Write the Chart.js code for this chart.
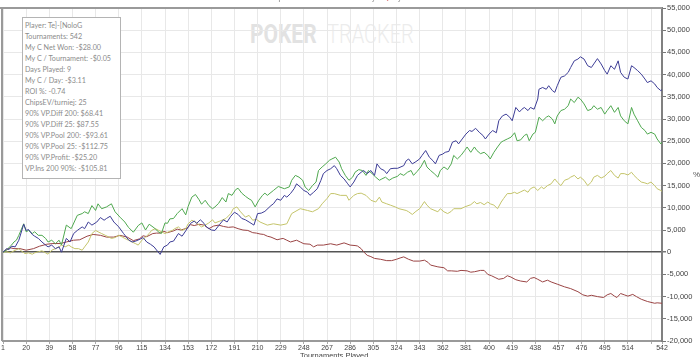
<!DOCTYPE html>
<html><head><meta charset="utf-8">
<script src="https://cdn.jsdelivr.net/npm/chart.js@4/dist/chart.umd.min.js"></script>
<style>
html,body{margin:0;padding:0;background:#fff;width:700px;height:357px;overflow:hidden;}
#wrap{position:relative;width:700px;height:357px;}
.wm{position:absolute;white-space:nowrap;font-family:Roboto,"Liberation Sans",sans-serif;font-size:25px;line-height:25px;transform-origin:0 0;}
#wm1{left:250px;top:22px;font-weight:700;color:#e2e2e2;transform:scaleX(0.84);}
#wm2{left:327px;top:22px;font-weight:300;color:#ececec;transform:scaleX(0.8);}
#c{position:absolute;left:0;top:0;}
#stats{position:absolute;left:22px;top:17px;width:95px;height:158.5px;border:1px solid #b4b4b4;background:#fff;
 font-family:Lato,"Open Sans",sans-serif;font-size:7.2px;line-height:11px;color:#8c8c8c;padding:1.5px 0 0 2px;white-space:nowrap;}
#ttl{position:absolute;left:268px;top:-6px;font-family:"Liberation Sans",sans-serif;font-size:7px;line-height:8px;color:#777;white-space:nowrap;}
#ttl b{color:#d04040;font-weight:normal;}
#xt{position:absolute;left:300px;top:351px;font-family:"Liberation Sans",sans-serif;font-size:7.5px;line-height:9px;color:#444;white-space:nowrap;}
#pct{position:absolute;left:693px;top:170px;font-family:"Liberation Sans",sans-serif;font-size:8px;line-height:9px;color:#555;}
</style></head>
<body><div id="wrap">
<div class="wm" id="wm1">POKER</div><div class="wm" id="wm2">TRACKER</div>
<canvas id="c" width="700" height="357"></canvas>
<div id="ttl">Chips Won over Tournaments Played <b>&#9670;</b> My C Net Won</div>
<div id="stats">Player: Te]-[NoloG<br>Tournaments: 542<br>My C Net Won: -$28.00<br>My C / Tournament: -$0.05<br>Days Played: 9<br>My C / Day: -$3.11<br>ROI %: -0.74<br>ChipsEV/turniej: 25<br>90% VP.Diff 200: $68.41<br>90% VP.Diff 25: $87.55<br>90% VP.Pool 200: -$93.61<br>90% VP.Pool 25: -$112.75<br>90% VP.Profit: -$25.20<br>VP.Ins 200 90%: -$105.81</div>
<div id="xt">Tournaments Played</div>
<div id="pct">%</div>
</div>
<script>
// [tournament, chips]
const blueSeries = [[1,0],[4,800],[6,600],[8,1350],[11,1200],[14,2700],[18,6300],[20,4900],[22,5100],[25,4000],[27,3600],[30,3100],[33,2300],[36,1600],[38,1200],[41,1600],[44,800],[47,1200],[49,0],[53,3100],[56,2300],[59,4200],[62,4900],[66,5700],[68,5300],[71,6800],[74,6100],[78,6800],[81,7800],[84,7200],[86,7600],[89,8100],[92,6800],[96,5700],[100,4200],[104,2800],[107,2300],[110,2500],[114,3000],[116,3300],[119,2300],[122,1800],[125,1200],[127,500],[130,-500],[133,1200],[136,1600],[138,2300],[141,2500],[145,4200],[148,3600],[151,4800],[155,6500],[158,7000],[160,6500],[163,7300],[166,6500],[168,5700],[172,5000],[175,4900],[179,6300],[182,7300],[185,6800],[188,8100],[191,9000],[194,8500],[197,7600],[200,7300],[203,6800],[207,6100],[210,8700],[213,8800],[216,9200],[221,10500],[223,10900],[226,12000],[229,11700],[232,12800],[234,12400],[237,13200],[240,14300],[242,15400],[245,14700],[248,13900],[251,13500],[253,12800],[256,13500],[259,14300],[262,16200],[264,17700],[267,18400],[270,18800],[273,19500],[275,18800],[278,17300],[281,16500],[284,15400],[286,14700],[289,15800],[292,17300],[295,18000],[297,18400],[300,17700],[303,18400],[306,17300],[308,19900],[311,18800],[314,18400],[316,17700],[319,18800],[322,18900],[325,18900],[330,19500],[332,20600],[334,21000],[337,19900],[340,20400],[343,21000],[345,21800],[348,22900],[351,21400],[354,20600],[356,19900],[359,21800],[362,22100],[364,22500],[367,22700],[370,24800],[373,25100],[375,24400],[378,25500],[381,26600],[384,27400],[386,27200],[389,27900],[392,27000],[395,26300],[397,25500],[400,26600],[403,27400],[406,26900],[408,29600],[411,30700],[414,31100],[417,30400],[419,29600],[422,32600],[425,31600],[427,32200],[429,32600],[432,31900],[434,32600],[437,32200],[440,34500],[441,36700],[444,37100],[447,36700],[449,37500],[452,36400],[454,36000],[456,37500],[459,39400],[462,39700],[465,40500],[467,41600],[470,43100],[473,43500],[475,44000],[478,43500],[481,42000],[484,41600],[486,42400],[489,43600],[492,42400],[495,40900],[497,40100],[500,42000],[503,41200],[506,43100],[508,40500],[511,39400],[514,39000],[517,42000],[519,41600],[522,40900],[525,40100],[528,39000],[530,38200],[533,38600],[536,37900],[538,37100],[541,36400],[542,36600]];

const greenSeries = [[1,0],[4,450],[5,800],[8,1600],[10,2300],[12,2700],[14,3800],[18,6400],[20,4600],[22,4900],[25,4200],[27,4600],[30,3800],[33,3800],[36,3100],[38,2300],[41,2700],[44,1900],[47,2700],[49,1600],[53,6100],[57,5300],[62,8300],[66,8700],[68,9100],[71,8700],[74,10500],[77,9400],[79,10900],[82,9800],[86,10200],[90,10900],[93,9100],[97,7900],[101,6800],[104,5600],[108,4500],[112,6000],[115,6600],[118,5000],[121,6300],[125,5500],[129,4500],[131,4200],[134,6600],[136,6500],[138,7500],[141,7600],[144,8700],[148,9800],[151,8400],[153,10300],[156,12400],[159,13000],[162,11800],[164,10800],[167,11700],[170,10500],[173,9800],[175,10200],[178,11000],[181,12300],[184,11300],[186,13200],[189,12800],[192,14100],[194,14400],[197,13300],[200,12600],[203,12000],[205,11700],[208,10200],[211,11700],[214,12800],[216,13300],[218,12800],[223,13900],[227,14800],[232,14300],[236,14700],[238,16200],[241,17300],[244,16900],[247,16200],[249,14700],[252,13900],[255,15000],[258,15800],[260,18400],[263,19200],[266,19900],[269,20700],[271,21000],[274,21400],[277,20300],[279,18800],[282,17300],[285,16200],[288,16900],[290,18000],[293,18600],[296,18400],[299,17300],[301,18400],[304,17700],[307,16900],[310,16200],[312,16500],[315,16900],[318,16200],[321,16700],[325,17100],[327,17700],[330,17300],[333,18000],[336,18400],[338,17300],[341,18200],[344,19200],[347,20700],[349,19200],[352,18400],[355,17700],[358,16900],[360,18400],[363,19200],[366,18600],[369,19900],[371,21800],[374,21000],[377,21800],[380,22900],[382,23700],[385,22500],[388,23700],[390,22900],[393,22200],[396,22500],[399,21800],[401,21000],[404,22500],[407,23700],[410,24800],[412,25100],[415,25500],[418,25900],[421,26900],[423,25100],[426,25300],[429,26300],[431,26600],[433,25100],[436,26600],[438,27000],[441,30400],[444,29600],[447,30400],[449,30700],[452,30000],[454,28900],[456,30700],[459,31900],[462,32200],[465,33000],[467,34500],[470,33700],[473,34900],[475,34500],[478,33400],[481,31900],[484,32200],[486,33000],[489,32200],[492,32600],[495,31100],[497,31900],[500,33000],[503,31500],[506,32600],[508,30700],[511,29600],[514,28900],[517,32600],[519,31100],[522,29600],[525,28100],[528,27400],[530,26600],[533,27000],[536,26600],[538,25500],[541,24400],[542,24800]];

const yellowSeries = [[1,0],[4,100],[7,-150],[10,300],[14,800],[16,300],[19,-300],[22,-150],[25,-450],[27,-150],[30,100],[33,300],[36,-150],[38,-450],[41,450],[44,800],[47,1200],[49,1600],[52,1200],[55,1600],[57,1200],[60,800],[63,800],[66,450],[68,1200],[71,2300],[74,4200],[77,4900],[79,4600],[82,4200],[85,3800],[88,3400],[90,3100],[93,3300],[96,3800],[99,3400],[101,3100],[104,2700],[107,2300],[110,1900],[112,1600],[115,2700],[118,3400],[121,4200],[123,4900],[126,5300],[129,4900],[131,4600],[134,4200],[137,4600],[140,4900],[142,5300],[145,5700],[148,4900],[151,5300],[153,6400],[156,7200],[159,6800],[162,6100],[164,5700],[167,6100],[170,6600],[173,7300],[175,6600],[179,7000],[184,7600],[188,8700],[190,9800],[193,10200],[196,9100],[200,7900],[203,8300],[206,7200],[209,7400],[212,6800],[218,6100],[223,6400],[229,6100],[234,6400],[238,8700],[245,9800],[251,9400],[255,9100],[260,9800],[263,10900],[267,12100],[270,13200],[273,13200],[278,12800],[283,12800],[285,11700],[289,12800],[292,13200],[295,13300],[299,12800],[303,11700],[307,11300],[310,12400],[312,11300],[316,10900],[319,10600],[323,10200],[326,9800],[332,9400],[334,9100],[337,8500],[340,9200],[343,9800],[345,10600],[347,11400],[349,10600],[352,9800],[358,9100],[360,9800],[363,9100],[366,8700],[369,9200],[371,9800],[377,9800],[380,10200],[385,10700],[388,11400],[390,10900],[393,11200],[396,10700],[399,11300],[401,10900],[404,10600],[407,9800],[410,11300],[412,12100],[415,13200],[418,13200],[421,13500],[423,13200],[426,13600],[429,14000],[432,13500],[434,14300],[437,14700],[440,13900],[443,14700],[445,14300],[448,15000],[451,15400],[454,16500],[456,15800],[459,15000],[462,16200],[465,16500],[467,16900],[470,17300],[473,16500],[475,16900],[478,16200],[481,15000],[484,15800],[486,16900],[489,17300],[492,16700],[495,17100],[497,17700],[500,18400],[503,17300],[506,16700],[508,17700],[511,17700],[514,17400],[517,18000],[519,17300],[522,16500],[525,15800],[528,15600],[530,15400],[533,15800],[536,15000],[538,14300],[541,13900],[542,13700]];

const redSeries = [[1,0],[4,600],[7,1000],[10,800],[15,800],[20,450],[26,800],[31,1350],[37,1800],[42,1950],[48,1950],[53,2300],[59,2700],[64,2800],[70,3600],[75,4000],[81,3800],[86,3400],[92,3400],[97,3800],[103,3400],[108,2600],[113,3000],[116,3700],[119,3500],[124,4200],[127,4300],[130,4300],[133,4700],[136,4400],[141,4800],[144,5200],[147,5000],[152,5400],[155,6200],[158,6000],[162,6300],[166,6100],[170,5300],[174,5900],[178,6100],[182,5800],[186,5600],[190,5700],[194,5300],[198,5000],[202,4900],[206,4400],[209,4300],[212,4100],[215,4000],[218,3600],[221,3400],[226,2800],[229,3000],[231,3100],[234,2700],[237,2300],[242,2700],[245,2300],[248,1900],[253,1800],[256,1200],[259,1600],[264,1600],[270,1900],[275,1600],[281,2100],[286,1600],[290,1500],[292,1400],[295,800],[297,100],[300,-700],[303,-1000],[306,-1400],[311,-1600],[316,-1900],[320,-1900],[324,-1600],[327,-1300],[330,-1050],[334,-1600],[338,-2000],[343,-2000],[347,-1800],[350,-2300],[352,-2900],[358,-3300],[363,-3500],[366,-4200],[369,-4200],[374,-4300],[377,-4100],[382,-4200],[385,-4500],[388,-4400],[393,-4100],[396,-4100],[399,-5000],[402,-5300],[405,-5700],[408,-6100],[412,-5900],[415,-5300],[418,-5600],[422,-6200],[426,-6500],[431,-6700],[434,-5900],[437,-5700],[440,-6100],[444,-6700],[448,-6300],[451,-6700],[456,-7200],[462,-7800],[467,-8200],[473,-8900],[477,-9600],[481,-9900],[484,-9700],[489,-10000],[494,-10200],[497,-9600],[500,-9300],[503,-9900],[505,-10200],[508,-9300],[511,-9600],[514,-9900],[518,-9500],[521,-10000],[525,-10600],[530,-11100],[536,-11500],[538,-11400],[542,-11500]];

const xTickValues = [1,20,39,58,77,96,115,134,153,172,191,210,229,248,267,286,305,324,343,362,381,400,419,438,457,476,495,514,533,542];
const xTickLabels = ['1','20','39','58','77','96','115','134','153','172','191','210','229','248','267','286','305','324','343','362','381','400','419','438','457','476','495','514','','542'];
const yMin = -20000, yMax = 55000, yStep = 5000;

const toXY = s => s.map(p => ({x: p[0], y: p[1]}));

const frame = {
  id: 'frame',
  afterDraw(chart) {
    const {ctx, chartArea: a} = chart;
    ctx.save();
    ctx.strokeStyle = '#9a9a9a';
    ctx.lineWidth = 2;
    ctx.beginPath();
    ctx.moveTo(0, a.top); ctx.lineTo(a.right, a.top);
    ctx.moveTo(a.left - 1, a.top); ctx.lineTo(a.left - 1, a.bottom);
    ctx.stroke();
    ctx.restore();
  }
};

const ds = (data, color) => ({data: toXY(data), borderColor: color, borderWidth: 1, pointRadius: 0, tension: 0, fill: false});

new Chart(document.getElementById('c'), {
  type: 'line',
  data: {datasets: [
    ds(blueSeries, '#3d3d96'),
    ds(greenSeries, '#4fa84f'),
    ds(yellowSeries, '#c4c46a'),
    ds(redSeries, '#9a4444')
  ]},
  options: {
    responsive: false, animation: false, devicePixelRatio: 1,
    layout: {padding: {left: 3, top: 8, right: 0, bottom: 0}},
    plugins: {legend: {display: false}, tooltip: {enabled: false}, title: {display: false}},
    scales: {
      x: {
        type: 'linear', min: 1, max: 542,
        afterBuildTicks(s) { s.ticks = xTickValues.map(v => ({value: v})); },
        afterFit(s) { s.height = 16; },
        ticks: {autoSkip: false, maxRotation: 0, minRotation: 0, padding: 0, color: '#444',
          font: {size: 7, family: '"Liberation Sans", Arial, sans-serif'},
          callback: v => { const i = xTickValues.indexOf(v); return i < 0 ? '' : xTickLabels[i]; }},
        grid: {color: '#e8e8e8', lineWidth: 1, tickLength: 3, tickColor: '#aaaaaa'},
        border: {display: true, color: '#9a9a9a', width: 2}
      },
      y: {
        position: 'right', min: yMin, max: yMax,
        afterFit(s) { s.width = 38; },
        ticks: {stepSize: yStep, padding: 1, color: '#444',
          font: {size: 7.5, family: '"Liberation Sans", Arial, sans-serif'},
          callback: v => Number(v).toLocaleString('en-US')},
        grid: {color: c => (c.tick && c.tick.value === 0) ? '#555555' : '#e8e8e8',
               lineWidth: c => (c.tick && c.tick.value === 0) ? 1.5 : 1,
               tickLength: 4, tickColor: '#777777'},
        border: {display: true, color: '#808080', width: 2}
      }
    }
  },
  plugins: [frame]
});
</script>
</body></html>
